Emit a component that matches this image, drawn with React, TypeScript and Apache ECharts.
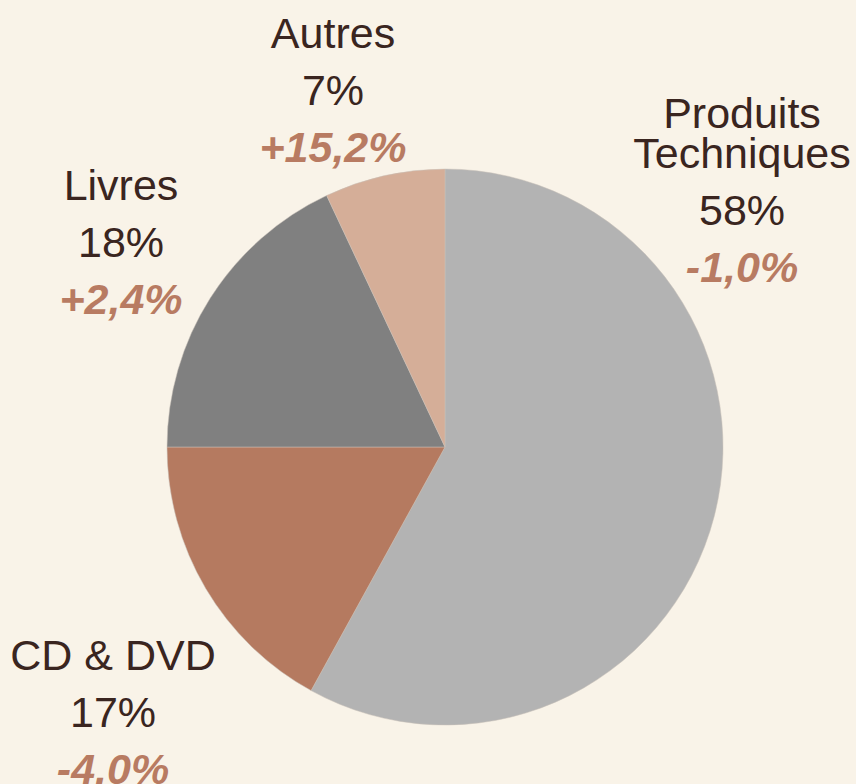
import React, { useEffect, useRef } from "react";
import * as echarts from "echarts";

const categories = ["Produits\nTechniques", "CD & DVD", "Livres", "Autres"];
const shares = [58, 17, 18, 7];
const changes = ["-1,0%", "-4,0%", "+2,4%", "+15,2%"];
const colors = ["#b3b3b3", "#b57a60", "#808080", "#d5ae98"];

// label block centres (layout, not data)
const LABEL_POS: [number, number][] = [
  [742, 190],
  [113, 712],
  [121, 242],
  [333, 90],
];

const TEXT = "#3a2520";
const ACCENT = "#b87b62";
const BG = "#f9f3e8";
const FONT = "'Liberation Sans', Arial, sans-serif";
const FS = 43;

export default function App() {
  const ref = useRef<HTMLDivElement>(null);
  useEffect(() => {
    if (!ref.current) return;
    const chart = echarts.init(ref.current, undefined, { renderer: "svg" });
    const data = categories.map((name, i) => ({
      name,
      value: shares[i],
      itemStyle: { color: colors[i] },
    }));
    chart.setOption({
      animation: false,
      backgroundColor: BG,
      series: [
        {
          type: "pie",
          center: [445, 447],
          radius: 278,
          startAngle: 90,
          clockwise: true,
          avoidLabelOverlap: false,
          data,
          itemStyle: { borderColor: "#c9c0b8", borderWidth: 0.5 },
          emphasis: { disabled: true },
          labelLine: { show: false },
          label: {
            show: true,
            position: "outside",
            fontFamily: FONT,
            fontSize: FS,
            formatter: (p: any) =>
              `{n|${p.name}}\n{p|${shares[p.dataIndex]}%}\n{c|${changes[p.dataIndex]}}`,
            rich: {
              n: {
                fontSize: FS,
                lineHeight: 40,
                color: TEXT,
                align: "center",
                fontFamily: FONT,
              },
              p: {
                fontSize: FS,
                lineHeight: 74,
                color: TEXT,
                align: "center",
                fontFamily: FONT,
              },
              c: {
                fontSize: FS,
                lineHeight: 40,
                color: ACCENT,
                fontWeight: "bold",
                fontStyle: "italic",
                align: "center",
                fontFamily: FONT,
              },
            },
          },
          labelLayout: (params: any) => {
            const pos = LABEL_POS[params.dataIndex];
            return {
              x: pos[0],
              y: pos[1],
              align: "center",
              verticalAlign: "middle",
            };
          },
        },
      ],
    });
    return () => chart.dispose();
  }, []);
  return (
    <div
      ref={ref}
      style={{
        position: "fixed",
        left: 0,
        top: 0,
        width: 856,
        height: 784,
        background: BG,
      }}
    />
  );
}
